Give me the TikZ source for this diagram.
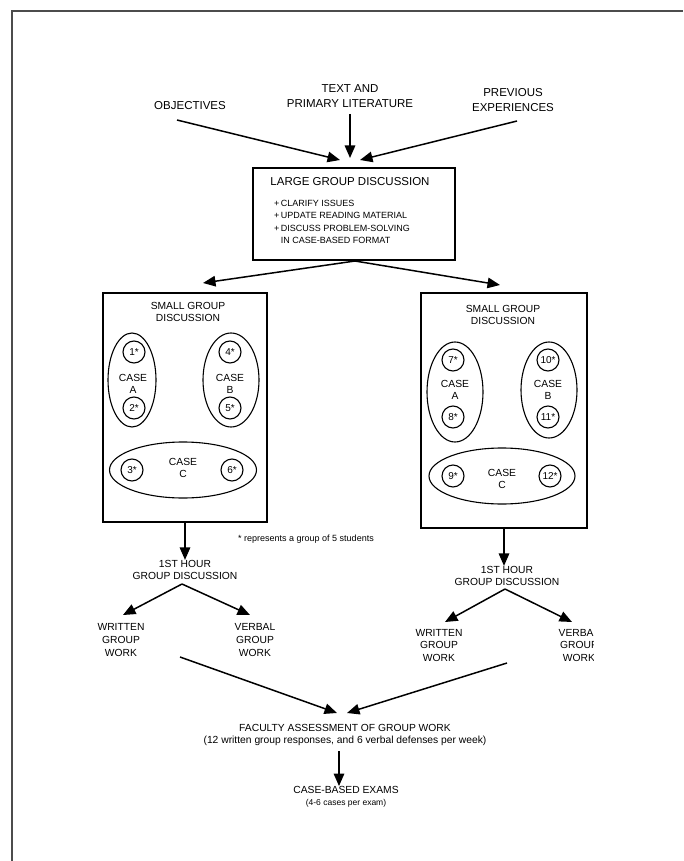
\documentclass[tikz,border=0pt]{standalone}
\usepackage{fontspec}
\setmainfont{Liberation Sans}
\usetikzlibrary{arrows.meta,shapes.geometric}
\begin{document}
\begin{tikzpicture}[x=1pt,y=-1pt,
  arr/.style={line width=1.5pt,-{Triangle[length=12.5pt,width=10.5pt]}},
  big/.style={font=\fontsize{11.5}{15.5}\selectfont,align=center,inner sep=0},
  mid/.style={font=\fontsize{10.3}{12.5}\selectfont,align=center,inner sep=0},
  sml/.style={font=\fontsize{9}{12.3}\selectfont,inner sep=0},
  boxy/.style={draw,line width=1.1pt,inner sep=0},
  oval/.style={draw,ellipse,line width=1.1pt,inner sep=0},
  grp/.style={draw,circle,line width=1.1pt,minimum size=22pt,inner sep=0,font=\fontsize{10}{12}\selectfont},
  frame/.style={draw=black!70,line width=1.2pt}
]
\useasboundingbox (0,0) rectangle (683,861);
\fill[white] (0,0) rectangle (683,861);
\draw[frame] (12,861) -- (12,11) -- (683,11);

% inputs
\node[big] (obj) at (190,106) {OBJECTIVES};
\node[big] (txt) at (350,96) {TEXT AND\\PRIMARY LITERATURE};
\node[big] (prev) at (513,100) {PREVIOUS\\EXPERIENCES};
\coordinate (o1) at (177,120);
\coordinate (p1) at (517,121);
\coordinate (in1) at (340,160);
\coordinate (in2) at (350,158);
\coordinate (in3) at (360,160);
\draw[arr] (o1) -- (in1);
\draw[arr] (txt.south) ++(0,6) -- (in2);
\draw[arr] (p1) -- (in3);

% large group box
\node[boxy,minimum width=202pt,minimum height=92pt] (lg) at (354,214) {};
\node[big] (lgt) at (350,182) {LARGE GROUP DISCUSSION};
\node[sml,anchor=north west,align=left] (bul) at (274,200) {+\,CLARIFY ISSUES\\+\,UPDATE READING MATERIAL\\+\,DISCUSS PROBLEM-SOLVING\\\phantom{+\,}IN CASE-BASED FORMAT};

\coordinate (lgo) at (355,261);
\coordinate (tl) at (203,283);
\coordinate (tr) at (500,285);
\draw[arr] (lgo) -- (tl);
\draw[arr] (lgo) -- (tr);

% left small group box
\node[boxy,minimum width=164pt,minimum height=229pt] (sl) at (185,407.5) {};
\node[mid] (slt) at (188,312) {SMALL GROUP\\DISCUSSION};
\node[oval,minimum width=48pt,minimum height=94pt] (lA) at (132,380) {};
\node[oval,minimum width=56pt,minimum height=94pt] (lB) at (231,380) {};
\node[oval,minimum width=147pt,minimum height=56pt] (lC) at (183,470) {};
\node[grp] (g1) at (134,352) {1*};
\node[grp] (g2) at (134,408) {2*};
\node[grp] (g4) at (230,352) {4*};
\node[grp] (g5) at (230,408) {5*};
\node[grp] (g3) at (132,470) {3*};
\node[grp] (g6) at (232,470) {6*};
\node[mid] (lAt) at (133,384) {CASE\\A};
\node[mid] (lBt) at (230,384) {CASE\\B};
\node[mid] (lCt) at (183,468) {CASE\\C};

\node[sml,anchor=west] (note) at (238,539) {* represents a group of 5 students};

% right small group box
\node[boxy,minimum width=166pt,minimum height=235pt] (sr) at (504,410.5) {};
\node[mid] (srt) at (503,315) {SMALL GROUP\\DISCUSSION};
\node[oval,minimum width=56pt,minimum height=100pt] (rA) at (455,392) {};
\node[oval,minimum width=56pt,minimum height=96pt] (rB) at (549,390) {};
\node[oval,minimum width=146pt,minimum height=56pt] (rC) at (502,476) {};
\node[grp] (g7) at (453,360) {7*};
\node[grp] (g8) at (453,417) {8*};
\node[grp] (g10) at (548,360) {10*};
\node[grp] (g11) at (548,417) {11*};
\node[grp] (g9) at (453,476) {9*};
\node[grp] (g12) at (550,476) {12*};
\node[mid] (rAt) at (455,390) {CASE\\A};
\node[mid] (rBt) at (548,390) {CASE\\B};
\node[mid] (rCt) at (502,479) {CASE\\C};

% left lower flow
\node[mid] (h1) at (185,570) {1ST HOUR\\GROUP DISCUSSION};
\draw[arr] (sl.south) -- (sl.south |- h1.north);
\coordinate (h1o) at (182,584);
\coordinate (wl) at (123,615);
\coordinate (vl) at (250,615);
\draw[arr] (h1o) -- (wl);
\draw[arr] (h1o) -- (vl);
\node[mid] (wl1) at (121,640) {WRITTEN\\GROUP\\WORK};
\node[mid] (vl1) at (255,640) {VERBAL\\GROUP\\WORK};

% right lower flow
\node[mid] (h2) at (507,576) {1ST HOUR\\GROUP DISCUSSION};
\draw[arr] (sr.south) -- (sr.south |- h2.north);
\coordinate (h2o) at (505,589);
\coordinate (wr) at (445,622);
\coordinate (vr) at (572,622);
\draw[arr] (h2o) -- (wr);
\draw[arr] (h2o) -- (vr);
\node[mid] (wr1) at (439,645) {WRITTEN\\GROUP\\WORK};
\begin{scope}
\clip (540,600) rectangle (593,680);
\node[mid] (vr1) at (579,645) {VERBAL\\GROUP\\WORK};
\end{scope}

% assessment
\coordinate (al) at (180,657);
\coordinate (ar) at (507,663);
\coordinate (fa1) at (337,713);
\coordinate (fa2) at (347,713);
\draw[arr] (al) -- (fa1);
\draw[arr] (ar) -- (fa2);
\node[mid] (fac) at (345,735) {FACULTY ASSESSMENT OF GROUP WORK\\(12 written group responses, and 6 verbal defenses per week)};
\node[mid] (exam) at (346,797) {CASE-BASED EXAMS\\{\fontsize{8.5}{10}\selectfont (4-6 cases per exam)}};
\draw[arr] (fac.south) ++(-6,5) coordinate (fs) -- (fs |- exam.north);
\end{tikzpicture}
\end{document}
